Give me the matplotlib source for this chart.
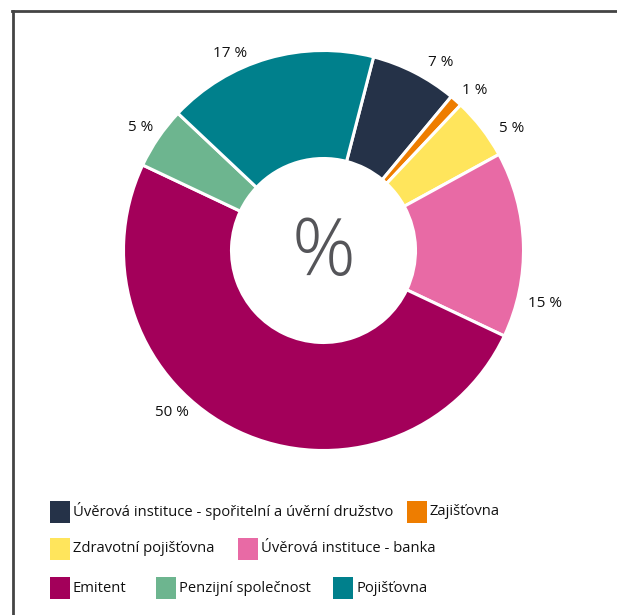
import matplotlib
matplotlib.use("Agg")
import matplotlib.pyplot as plt
from matplotlib.patches import Rectangle
from matplotlib.lines import Line2D
import numpy as np

plt.rcParams["font.family"] = ["Open Sans", "DejaVu Sans"]

# share of each institution type, clockwise from the top
categories = [
    "Úvěrová instituce - spořitelní a úvěrní družstvo",
    "Zajišťovna",
    "Zdravotní pojišťovna",
    "Úvěrová instituce - banka",
    "Emitent",
    "Penzijní společnost",
    "Pojišťovna",
]
shares = [7, 1, 5, 15, 50, 5, 17]
colors = ["#253248", "#ee7d00", "#ffe55c", "#e86aa5", "#a3005a", "#6db58f", "#00808c"]

W, H = 617, 615
fig = plt.figure(figsize=(W / 100, H / 100), dpi=100)
fig.patch.set_facecolor("white")

# donut, centre at (323, 250) px, outer radius 200 px
cx, cy, r_px = 323.5, 250.5, 200
half = 1.25 * r_px
ax = fig.add_axes([(cx - half) / W, (H - cy - half) / H, 2 * half / W, 2 * half / H])
ax.set_xlim(-1.25, 1.25)
ax.set_ylim(-1.25, 1.25)
ax.set_aspect("equal")
ax.axis("off")

wedges, _ = ax.pie(shares, colors=colors, startangle=75.5, counterclock=False,
                   radius=1.0,
                   wedgeprops=dict(width=0.54, edgecolor="white", linewidth=2.2))

# label angles (deg) and distances, nudged off the wedge mid-angles
label_angles = [58, 46.5, 33, -13.5, 227, 146, 115.5]
label_dist = [1.11, 1.10, 1.12, 1.14, 1.11, 1.10, 1.09]
for val, a, d in zip(shares, label_angles, label_dist):
    t = np.deg2rad(a)
    ax.text(d * np.cos(t), d * np.sin(t), f"{val} %", ha="center", va="center",
            fontsize=11, color="#111111")

ax.text(0, -0.02, "%", ha="center", va="center", fontsize=57, fontweight="light",
        color="#555559")

# frame: left and top rules only
fig.add_artist(Line2D([13 / W, 13 / W], [0, 1 - 11 / H], color="#444444", lw=2,
                      transform=fig.transFigure))
fig.add_artist(Line2D([12 / W, 1], [1 - 11 / H, 1 - 11 / H], color="#444444", lw=2,
                      transform=fig.transFigure))

# legend laid out in three rows
legend_rows = [
    [(0, 50), (1, 407)],
    [(2, 50), (3, 238)],
    [(4, 50), (5, 156), (6, 333)],
]
row_y = [511.5, 549, 588]
for row, yc in zip(legend_rows, row_y):
    for idx, x0 in row:
        fig.add_artist(Rectangle((x0 / W, 1 - (yc + 11) / H), 20 / W, 22 / H,
                                 facecolor=colors[idx], edgecolor="none",
                                 transform=fig.transFigure))
        fig.text((x0 + 23) / W, 1 - yc / H, categories[idx], ha="left", va="center",
                 fontsize=10.6, color="#111111")

fig.savefig("out.png", dpi=100)
